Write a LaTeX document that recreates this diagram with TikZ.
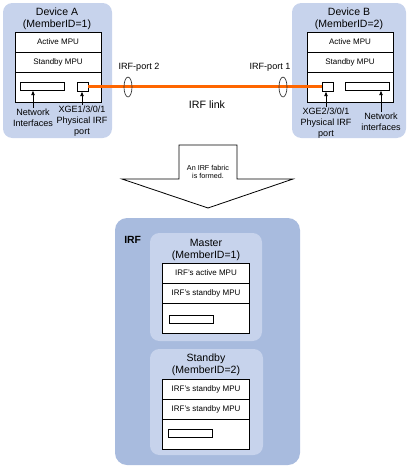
\documentclass[tikz,border=0pt]{standalone}
\usepackage{fontspec}
\setmainfont{Liberation Sans}
\usetikzlibrary{shapes.geometric, arrows, arrows.meta, positioning}
\definecolor{panelblue}{RGB}{199,211,236}
\definecolor{fabricblue}{RGB}{168,187,222}
\definecolor{linkorange}{RGB}{255,102,0}
\tikzstyle{panel} = [rectangle, rounded corners=7pt, fill=panelblue, draw=none, inner sep=0pt, outer sep=0pt]
\tikzstyle{fabric} = [rectangle, rounded corners=9pt, fill=fabricblue, draw=none, inner sep=0pt, outer sep=0pt]
\tikzstyle{title} = [align=center, font=\fontsize{7.9}{9.4}\selectfont, inner sep=0pt]
\tikzstyle{mpu} = [rectangle, draw=black, fill=white, line width=0.6pt, minimum width=64.5pt, minimum height=15pt, inner sep=0pt, outer sep=0pt, font=\fontsize{6}{7}\selectfont]
\tikzstyle{slot} = [mpu, minimum height=23pt]
\tikzstyle{iface} = [rectangle, draw=black, fill=white, line width=0.6pt, minimum width=32.5pt, minimum height=6pt, inner sep=0pt]
\tikzstyle{port} = [iface, minimum width=8.25pt, minimum height=6.75pt]
\tikzstyle{ring} = [ellipse, draw=black!80, line width=0.5pt, minimum width=6pt, minimum height=15pt, inner sep=0pt]
\tikzstyle{note} = [align=center, font=\fontsize{6.8}{8}\selectfont, inner sep=1pt]
\tikzstyle{arrow} = [line width=0.6pt, -{Latex[length=3.5pt,width=3pt]}]
\tikzstyle{link} = [line width=1.6pt, draw=linkorange]

\begin{document}
\begin{tikzpicture}[x=0.75pt, y=-0.75pt]
        \useasboundingbox (0,0) rectangle (409,468);

        % Device A
        \node (devA) [panel, minimum width=81.75pt, minimum height=101.25pt] at (57.5,70.5) {};
        \node (devA_title) [title] at (57,19) {Device A\\(MemberID=1)};
        \node (devA_active) [mpu, anchor=north] at (58,32) {Active MPU};
        \node (devA_standby) [mpu, below=0pt of devA_active] {Standby MPU};
        \node (devA_slot) [slot, below=0pt of devA_standby] {};
        \node (devA_iface) [iface] at (42.5,86) {};
        \node (devA_port) [port] at (82.5,86.5) {};
        \node (devA_iface_note) [note] at (33,118) {Network\\Interfaces};
        \node (devA_port_note) [note] at (82,121) {XGE1/3/0/1\\Physical IRF\\port};

        % Device B
        \node (devB) [panel, minimum width=85.5pt, minimum height=101.25pt] at (349,70.5) {};
        \node (devB_title) [title] at (349,19) {Device B\\(MemberID=2)};
        \node (devB_active) [mpu, anchor=north] at (350,32) {Active MPU};
        \node (devB_standby) [mpu, below=0pt of devB_active] {Standby MPU};
        \node (devB_slot) [slot, below=0pt of devB_standby] {};
        \node (devB_port) [port] at (327.5,86.5) {};
        \node (devB_iface) [iface, minimum width=33pt] at (367,86) {};
        \node (devB_port_note) [note] at (326,123) {XGE2/3/0/1\\Physical IRF\\port};
        \node (devB_iface_note) [note] at (381,122) {Network\\interfaces};

        % IRF link
        \draw [link] (devA_port.east) -- (devB_port.west);
        \node (ring2) [ring] at (128,87) {};
        \node (ring1) [ring] at (283,87) {};
        \node (ring2_note) [note] at (139,67) {IRF-port 2};
        \node (ring1_note) [note] at (270,67) {IRF-port 1};
        \node (link_note) [note, font=\fontsize{8}{9.6}\selectfont] at (207,105) {IRF link};

        \draw [arrow] (devA_iface_note.north) -- (devA_iface_note.north |- devA_iface.south);
        \draw [arrow] (devA_port_note.north) -- (devA_port_note.north |- devA_port.south);
        \draw [arrow] (devB_port_note.north) -- (devB_port_note.north |- devB_port.south);
        \draw [arrow] (devB_iface_note.north) -- (devB_iface_note.north |- devB_iface.south);

        % fabric is formed
        \draw [fill=white, line width=0.6pt] (179,145) -- (237,145) -- (237,179) -- (293,179) -- (208,208) -- (122,179) -- (179,179) -- cycle;
        \node (formed) [note, font=\fontsize{5.4}{6}\selectfont] at (208,172) {An IRF fabric\\is formed.};

        % IRF fabric
        \node (irf) [fabric, minimum width=138.75pt, minimum height=185.25pt] at (207.5,341.5) {};
        \node (irf_title) [inner sep=0pt, anchor=west, font=\fontsize{7.8}{9}\selectfont\bfseries] at (124,240) {IRF};

        \node (master) [panel, minimum width=84pt, minimum height=81pt] at (206,287) {};
        \node (master_title) [title] at (206,250) {Master\\(MemberID=1)};
        \node (master_active) [mpu, minimum width=65.25pt, anchor=north] at (206,263) {IRF's active MPU};
        \node (master_standby) [mpu, minimum width=65.25pt, below=0pt of master_active] {IRF's standby MPU};
        \node (master_slot) [slot, minimum width=65.25pt, below=0pt of master_standby] {};
        \node (master_iface) [iface, minimum width=33pt] at (191,319) {};

        \node (standby) [panel, minimum width=84.75pt, minimum height=79.5pt] at (206.5,402) {};
        \node (standby_title) [title] at (206,365) {Standby\\(MemberID=2)};
        \node (standby_first) [mpu, minimum width=65.25pt, anchor=north] at (206,379) {IRF's standby MPU};
        \node (standby_second) [mpu, minimum width=65.25pt, below=0pt of standby_first] {IRF's standby MPU};
        \node (standby_slot) [slot, minimum width=65.25pt, below=0pt of standby_second] {};
        \node (standby_iface) [iface, minimum width=33pt] at (190,433) {};
    \end{tikzpicture}
\end{document}
